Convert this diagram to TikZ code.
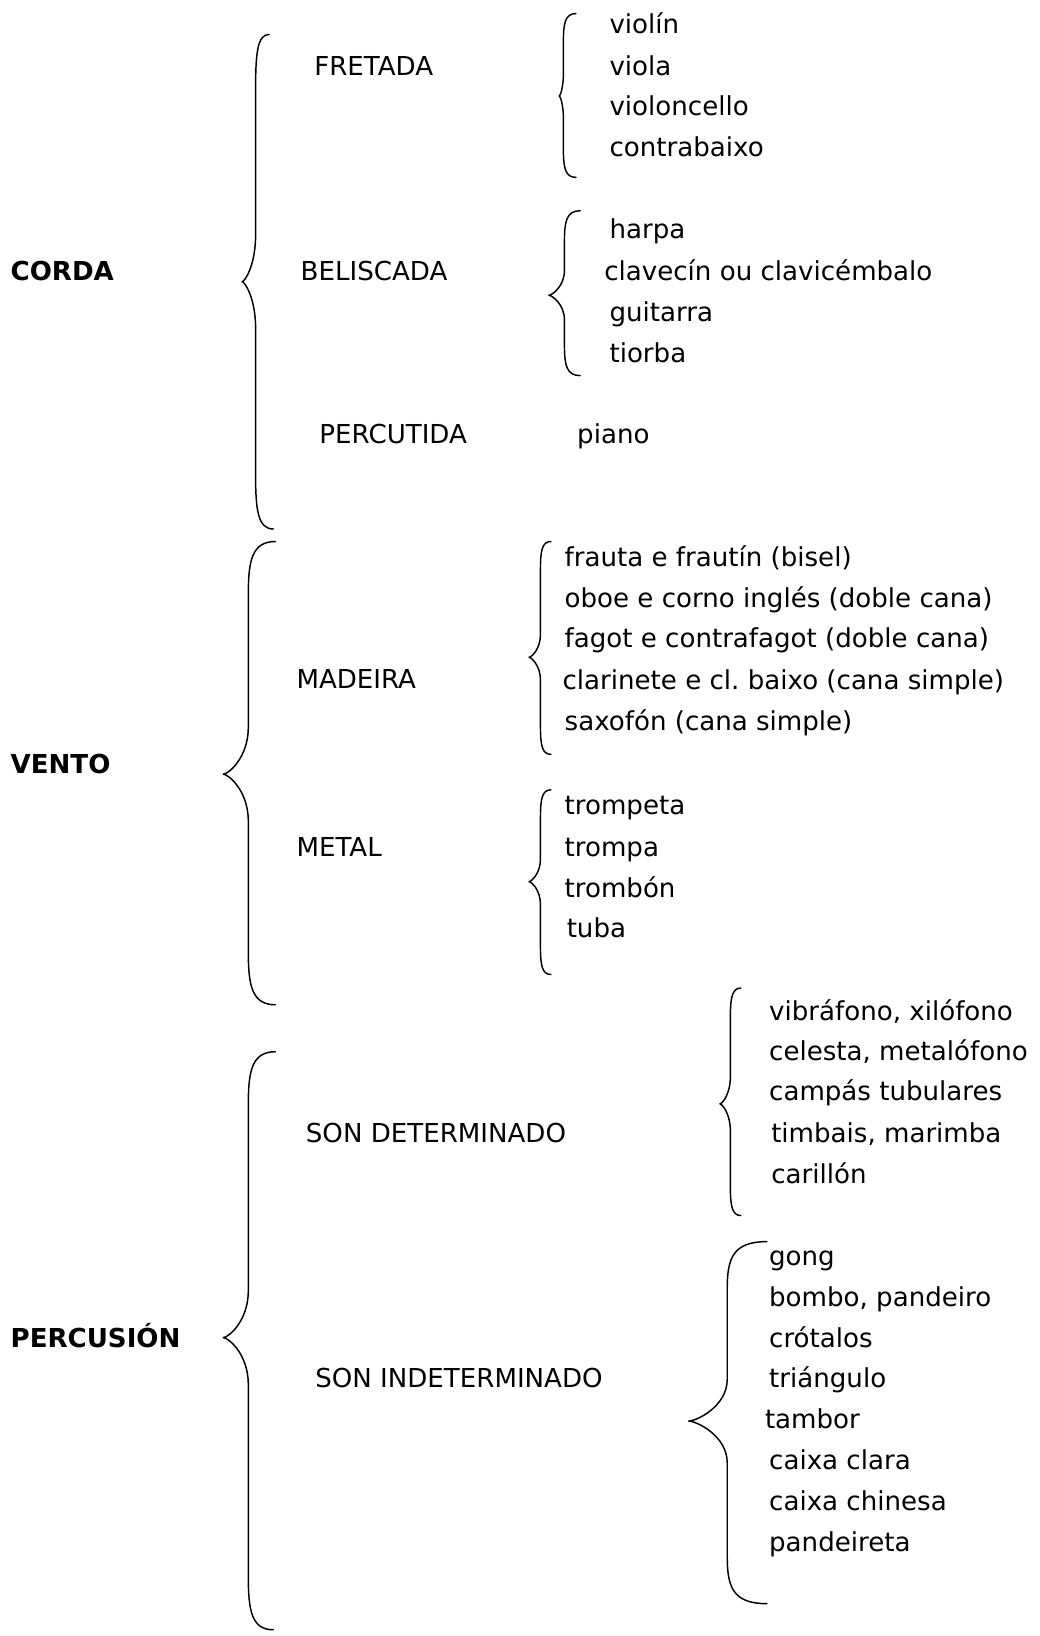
\documentclass[tikz,border=0pt]{standalone}
\usepackage{fontspec}
\setmainfont{DejaVu Sans}
\frenchspacing
\begin{document}
\begin{tikzpicture}[x=1pt,y=-1pt,
  item/.style={anchor=base west, inner sep=0pt, font=\frenchspacing\fontsize{25}{29}\selectfont},
  cat/.style={item, font=\fontsize{25}{29}\selectfont\bfseries},
  bracestroke/.style={line width=1.4pt, line cap=round, line join=round}]
\useasboundingbox (0,0) rectangle (996,1568);
% brace: #1 top-end x, #2 top y, #3 line x, #4 tip x, #5 tip y, #6 bottom y, #7 bottom-end x, #8 hook h, #9 tip h
\newcommand\mybrace[9]{%
  \draw[bracestroke] (#1,#2) .. controls ({#3+0.15*(#1-#3)},#2) and (#3,{#2+0.35*#8}) .. ({#3},{#2+#8})
    -- ({#3},{#5-#9}) .. controls (#3,{#5-0.35*#9}) and ({#4+0.2*(#3-#4)},#5) .. (#4,#5)
    .. controls ({#4+0.2*(#3-#4)},#5) and (#3,{#5+0.35*#9}) .. ({#3},{#5+#9})
    -- ({#3},{#6-#8}) .. controls (#3,{#6-0.35*#8}) and ({#3+0.15*(#7-#3)},#6) .. (#7,#6);}
% CORDA
\node[cat] (corda) at (10,269) {CORDA};
\node[item] (fretada) at (301,72) {FRETADA};
\node[item] (beliscada) at (288,269) {BELISCADA};
\node[item] (percutida) at (306,425) {PERCUTIDA};
\node[item] (piano) at (553,425) {piano};
\node[item] (violin) at (584,32) {violín};
\node[item] (viola) at (584,72) {viola};
\node[item] (violoncello) at (584,111) {violoncello};
\node[item] (contrabaixo) at (584,150) {contrabaixo};
\node[item] (harpa) at (584,229) {harpa};
\node[item] (clavecin) at (579,269) {clavecín ou clavicémbalo};
\node[item] (guitarra) at (584,308) {guitarra};
\node[item] (tiorba) at (584,347) {tiorba};
\mybrace{258}{33}{245}{232}{270}{507}{262}{50}{45}
\mybrace{552}{13}{540}{536}{92}{170}{552}{26}{22}
\mybrace{556}{202}{541}{526}{283}{360}{556}{28}{24}
% VENTO
\node[cat] (vento) at (10,741) {VENTO};
\node[item] (madeira) at (284,660) {MADEIRA};
\node[item] (metal) at (284,821) {METAL};
\node[item] (frauta) at (541,543) {frauta e frautín (bisel)};
\node[item] (oboe) at (541,582) {oboe e corno inglés (doble cana)};
\node[item] (fagot) at (541,621) {fagot e contrafagot (doble cana)};
\node[item] (clarinete) at (539,661) {clarinete e cl. baixo (cana simple)};
\node[item] (saxofon) at (541,700) {saxofón (cana simple)};
\node[item] (trompeta) at (541,781) {trompeta};
\node[item] (trompa) at (541,821) {trompa};
\node[item] (trombon) at (541,860) {trombón};
\node[item] (tuba) at (543,899) {tuba};
\mybrace{264}{519}{238}{214}{742}{963}{264}{50}{45}
\mybrace{528}{519}{518}{507}{630}{723}{528}{26}{22}
\mybrace{528}{757}{518}{507}{845}{934}{528}{26}{22}
% PERCUSION
\node[cat] (percusion) at (10,1291) {PERCUSIÓN};
\node[item] (sondet) at (293,1095) {SON DETERMINADO};
\node[item] (sonindet) at (302,1330) {SON INDETERMINADO};
\node[item] (vibrafono) at (737,978) {vibráfono, xilófono};
\node[item] (celesta) at (737,1016) {celesta, metalófono};
\node[item] (campas) at (737,1055) {campás tubulares};
\node[item] (timbais) at (739,1095) {timbais, marimba};
\node[item] (carillon) at (739,1134) {carillón};
\node[item] (gong) at (737,1213) {gong};
\node[item] (bombo) at (737,1252) {bombo, pandeiro};
\node[item] (crotalos) at (737,1291) {crótalos};
\node[item] (triangulo) at (737,1330) {triángulo};
\node[item] (tambor) at (733,1369) {tambor};
\node[item] (caixaclara) at (737,1408) {caixa clara};
\node[item] (caixachinesa) at (737,1448) {caixa chinesa};
\node[item] (pandeireta) at (737,1487) {pandeireta};
\mybrace{264}{1008}{238}{214}{1282}{1562}{262}{50}{45}
\mybrace{710}{947}{700}{690}{1058}{1165}{710}{28}{26}
\mybrace{735}{1190}{697}{660}{1362}{1537}{735}{45}{40}
\end{tikzpicture}
\end{document}
